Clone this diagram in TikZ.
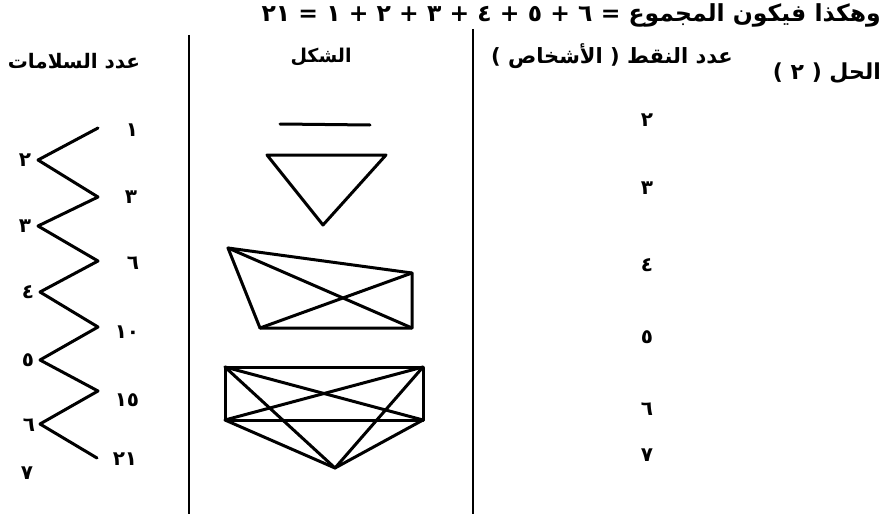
\documentclass[tikz,border=0pt]{standalone}
\usepackage{fontspec}
\newfontfamily\arabicfont[Script=Arabic]{DejaVu Sans}
\TeXXeTstate=1
\newcommand\myRTL[1]{\beginR #1\endR}
\newcommand\arsize[1]{\fontsize{#1}{#1}\selectfont}
\begin{document}
\begin{tikzpicture}[x=1pt,y=-1pt,
  ar/.style={font=\arabicfont\bfseries, inner sep=0pt},
  num/.style={font=\arabicfont\bfseries\arsize{20}, inner sep=0pt},
  sep/.style={line width=2.4pt},
  edge/.style={line width=3pt, line join=round, line cap=round}]
\useasboundingbox (0,0) rectangle (889,519);
% separators
\coordinate (s1t) at (189,35); \coordinate (s1b) at (189,514);
\coordinate (s2t) at (473,29); \coordinate (s2b) at (473,514);
\draw[sep] (s1t) -- (s1b);
\draw[sep] (s2t) -- (s2b);
% title and headers
\node[ar, anchor=east] (title) at (881,15) {\arsize{23.5}\myRTL{وهكذا فيكون المجموع = ٦ + ٥ + ٤ + ٣ + ٢ + ١ = ٢١}};
\node[ar] (h1) at (74,61) {\arsize{20}\myRTL{عدد السلامات}};
\node[ar] (h2) at (321,57) {\arsize{19}\myRTL{الشكل}};
\node[ar] (h3) at (612,56) {\arsize{21}\myRTL{عدد النقط ( الأشخاص )}};
\node[ar, anchor=east] (h4) at (881,73) {\arsize{22}\myRTL{الحل ( ٢ )}};
% right column numbers
\node[num] (p2) at (647,120) {٢};
\node[num] (p3) at (647,188) {٣};
\node[num] (p4) at (647,265) {٤};
\node[num] (p5) at (647,337) {٥};
\node[num] (p6) at (647,409) {٦};
\node[num] (p7) at (647,455) {٧};
% shapes
\coordinate (a1) at (280,124); \coordinate (a2) at (370,125);
\draw[edge] (a1) -- (a2);
\coordinate (b1) at (267,155); \coordinate (b2) at (386,155); \coordinate (b3) at (323,225);
\draw[edge] (b1) -- (b2) -- (b3) -- cycle;
\coordinate (c1) at (228,248); \coordinate (c2) at (412,273);
\coordinate (c3) at (412,328); \coordinate (c4) at (260,328);
\draw[edge] (c1) -- (c2) -- (c3) -- (c4) -- cycle;
\draw[edge] (c1) -- (c3); \draw[edge] (c2) -- (c4);
\coordinate (d1) at (225,367); \coordinate (d2) at (423,367);
\coordinate (d3) at (423,420); \coordinate (d4) at (225,420);
\coordinate (d5) at (335,468);
\draw[edge] (d1) -- (d2) -- (d3) -- (d4) -- cycle;
\draw[edge] (d1) -- (d3); \draw[edge] (d2) -- (d4);
\draw[edge] (d1) -- (d5); \draw[edge] (d2) -- (d5);
\draw[edge] (d3) -- (d5); \draw[edge] (d4) -- (d5);
% zigzag
\coordinate (z1) at (98,128);
\coordinate (z2) at (38,160);
\coordinate (z3) at (98,197);
\coordinate (z4) at (38,226);
\coordinate (z5) at (98,261);
\coordinate (z6) at (40,292);
\coordinate (z7) at (98,327);
\coordinate (z8) at (40,360);
\coordinate (z9) at (98,391);
\coordinate (z10) at (40,424);
\coordinate (z11) at (97,458);
\draw[edge] (z1) -- (z2) -- (z3) -- (z4) -- (z5) -- (z6) -- (z7) -- (z8) -- (z9) -- (z10) -- (z11);
% left numbers
\node[num] (l2) at (25,160) {٢};
\node[num] (l3) at (25,226) {٣};
\node[num] (l4) at (28,292) {٤};
\node[num] (l5) at (28,360) {٥};
\node[num] (l6) at (29,425) {٦};
\node[num] (l7) at (27,473) {٧};
% right numbers of zigzag
\node[num] (r1) at (132,130) {١};
\node[num] (r3) at (131,197) {٣};
\node[num] (r6) at (133,263) {٦};
\node[num] (r10) at (127,332) {\myRTL{١٠}};
\node[num] (r15) at (127,400) {\myRTL{١٥}};
\node[num] (r21) at (125,459) {\myRTL{٢١}};
\end{tikzpicture}
\end{document}
